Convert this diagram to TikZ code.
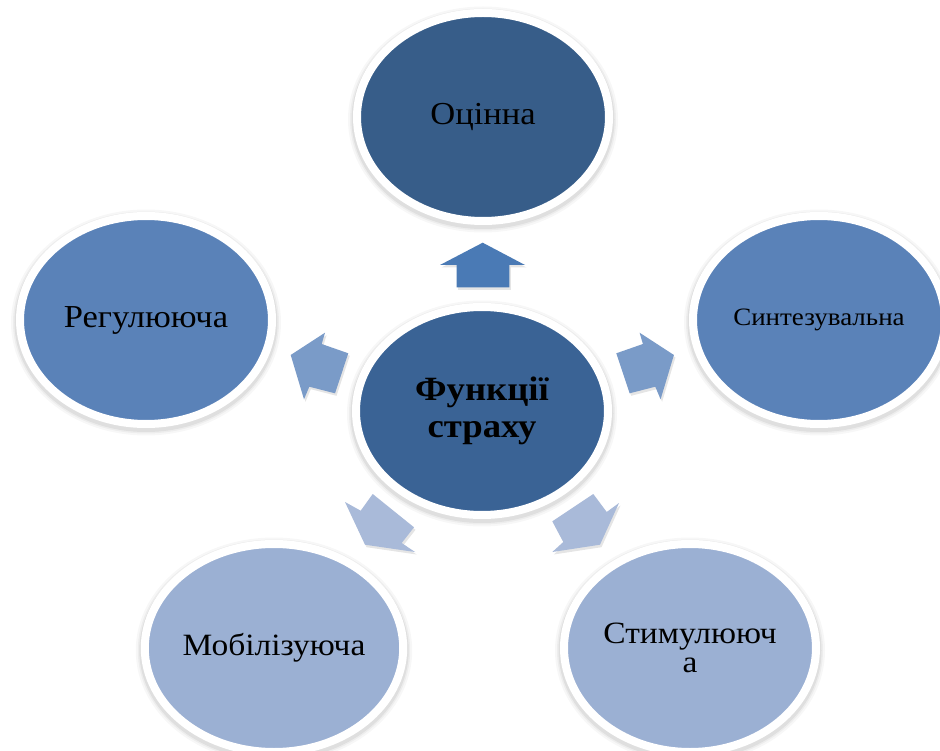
\documentclass[tikz,border=0pt]{standalone}
\usepackage{fontspec}
\setmainfont[FakeStretch=1.08]{Liberation Serif}
\usetikzlibrary{shapes.geometric}
\definecolor{cTop}{HTML}{375D89}
\definecolor{cMid}{HTML}{3A6395}
\definecolor{cSide}{HTML}{5A82B8}
\definecolor{cLow}{HTML}{9BB0D3}
\definecolor{aUp}{HTML}{4A7AB5}
\definecolor{aSide}{HTML}{7A9BC8}
\definecolor{aLow}{HTML}{A9BAD9}
\newcommand\fsz[2]{\fontsize{#1}{#2}\selectfont}
\begin{document}
\begin{tikzpicture}[x=1pt,y=-1pt,
  bub/.style={ellipse, minimum width=252pt, minimum height=208pt, inner sep=0pt,
    draw=white, line width=8pt, text=black,
    preaction={draw=black, line width=18pt, opacity=0.03, transform canvas={yshift=-2.5pt}},
    preaction={draw=black, line width=14pt, opacity=0.04, transform canvas={yshift=-2.5pt}},
    preaction={draw=black, line width=11pt, opacity=0.06, transform canvas={yshift=-2.5pt}}},
  blk/.style={line join=miter,
    preaction={fill=black, opacity=0.10, transform canvas={xshift=1.5pt, yshift=-2.5pt}}}]
\useasboundingbox (0,0) rectangle (940,751);
\clip (0,0) rectangle (940,751);
\fill[white] (0,0) rectangle (940,751);

% circles
\node[bub, fill=cTop, font={\fsz{32}{38}}] (o) at (483,117) {Оцінна};
\node[bub, fill=cSide, font={\fsz{32}{38}}] (r) at (146,320) {Регулююча};
\node[bub, fill=cSide, font={\fsz{25}{30}}] (s) at (819,320) {Синтезувальна};
\node[bub, fill=cLow, font={\fsz{31}{37}}] (m) at (274,648) {Мобілізуюча};
\node[bub, fill=cLow, font={\fsz{31}{29}}, align=center] (st) at (690,648) {Стимулююч\\а};
\node[bub, fill=cMid, font={\fsz{34}{37}\bfseries}, align=center] (f) at (482,411) {Функції\\страху};

% block arrows
\fill[blk, aUp] (482.7,242.7) -- (525,265) -- (509.3,265) -- (509.3,287.3)
  -- (456.7,287.3) -- (456.7,265) -- (440,265) -- cycle;
\fill[blk, aSide] (290.7,355) -- (325,332.7) -- (321.7,344) -- (348.3,353.3)
  -- (335,393.3) -- (309.3,386.7) -- (304,399.3) -- cycle;
\fill[blk, aSide] (673.9,355) -- (639.6,332.7) -- (642.9,344) -- (616.3,353.3)
  -- (629.6,393.3) -- (655.3,386.7) -- (660.6,399.3) -- cycle;
\fill[blk, aLow] (365,544.7) -- (345,502) -- (360.7,510.7) -- (372.7,494)
  -- (414,527.3) -- (401.7,543) -- (415,552) -- cycle;
\fill[blk, aLow] (600,544.7) -- (619,503) -- (606.7,512) -- (593.3,494)
  -- (552.3,521.3) -- (563.3,542) -- (552.3,552) -- cycle;
\end{tikzpicture}
\end{document}
